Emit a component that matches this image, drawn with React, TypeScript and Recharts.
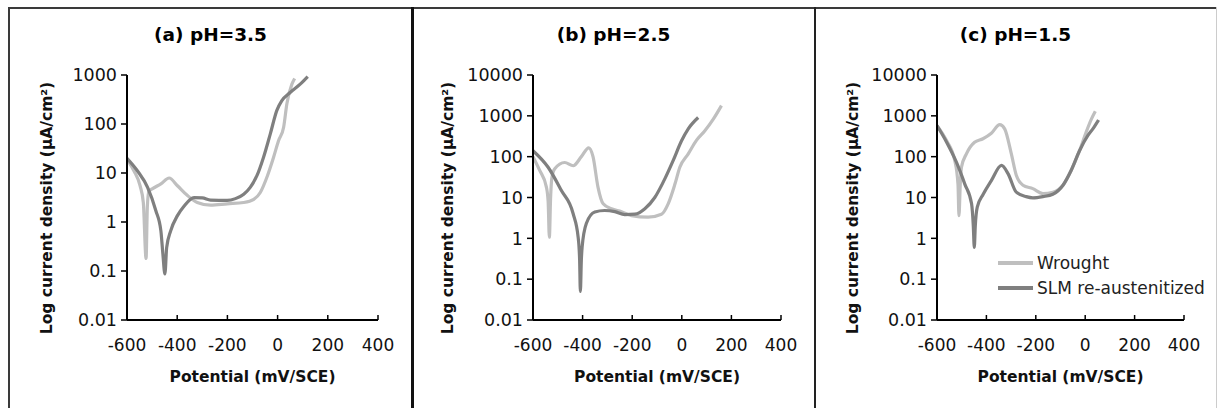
import React from 'react';
import { LineChart, Line, XAxis, YAxis, Legend, Label } from 'recharts';

const FONT = '"DejaVu Sans", Verdana, sans-serif';
const WROUGHT_COLOR = '#bfbfbf';
const SLM_COLOR = '#7f7f7f';

const seriesNames = ['Wrought', 'SLM re-austenitized'];
const panelTitles = ['(a) pH=3.5', '(b) pH=2.5', '(c) pH=1.5'];
const potentialTicks = [-600, -400, -200, 0, 200, 400];
const currentTicksA = [0.01, 0.1, 1, 10, 100, 1000];
const currentTicksBC = [0.01, 0.1, 1, 10, 100, 1000, 10000];

// (a) pH=3.5
const aWroughtE = [-600, -572, -548, -535, -524, -519, -513, -498, -465, -432, -399, -360, -320, -267, -201, -135, -95, -69, -43, -16, 4, 24, 37, 57, 68];
const aWroughtI = [19, 11, 5.5, 2.5, 0.18, 2, 4.2, 4.8, 6, 7.9, 5.5, 3.5, 2.5, 2.2, 2.35, 2.5, 2.9, 4, 8.1, 21, 46, 86, 260, 650, 850];
const aSlmE = [-600, -558, -518, -485, -465, -457, -449, -442, -426, -399, -373, -333, -300, -267, -201, -168, -135, -109, -82, -56, -29, -3, 17, 50, 90, 120];
const aSlmI = [20, 11, 5.1, 1.7, 0.66, 0.22, 0.087, 0.3, 0.66, 1.35, 2.1, 3.15, 3.1, 2.8, 2.75, 3.0, 3.7, 5.1, 8.9, 21, 63, 190, 300, 440, 650, 930];

// (b) pH=2.5
const bWroughtE = [-600, -573, -546, -539, -534, -529, -524, -513, -472, -438, -405, -375, -358, -338, -317, -284, -243, -203, -136, -82, -55, -28, -8, 26, 59, 93, 127, 160];
const bWroughtI = [100, 46, 18, 8, 1.07, 10, 30, 50, 72, 60, 100, 165, 100, 18, 7, 5.3, 4.5, 3.6, 3.3, 3.9, 7, 21, 55, 117, 250, 430, 830, 1780];
const bSlmE = [-600, -539, -486, -438, -418, -412, -409, -405, -402, -385, -351, -311, -270, -230, -189, -149, -109, -68, -35, -1, 26, 66];
const bSlmI = [140, 55, 15, 4, 1.07, 0.3, 0.05, 0.3, 0.6, 2.3, 4.4, 4.8, 4.5, 3.8, 3.9, 5.3, 10, 29, 80, 245, 480, 910];

// (c) pH=1.5
const cWroughtE = [-600, -561, -528, -515, -511, -506, -501, -481, -448, -414, -380, -346, -326, -299, -279, -252, -212, -171, -131, -90, -57, -23, 4, 25, 41];
const cWroughtI = [575, 245, 80, 21, 3.6, 20, 55, 117, 225, 275, 375, 610, 480, 117, 35, 20, 16.5, 12.5, 13.5, 20, 46, 140, 400, 830, 1290];
const cSlmE = [-600, -561, -521, -487, -460, -453, -449, -445, -437, -413, -380, -339, -312, -279, -239, -212, -171, -131, -90, -57, -23, 11, 31, 54];
const cSlmI = [580, 225, 72, 21, 7, 2, 0.6, 2, 5.8, 12, 26, 61, 38, 13.5, 10.5, 9.8, 10.5, 12, 20, 46, 140, 330, 480, 790];

const zip = (e: number[], i: number[]) => e.map((v, k) => ({ e: v, i: i[k] }));

const XTick = ({ x, y, payload }: any) => (
  <g>
    <line x1={x} y1={y} x2={x} y2={y - 5} stroke="#000" strokeWidth={1.5} />
    <text x={x} y={y + 31} textAnchor="middle" fontSize={17} fill="#111" fontFamily={FONT}>
      {payload.value}
    </text>
  </g>
);

const LegendBox = ({ payload }: any) => {
  const items = [...(payload || [])].sort(
    (p: any, q: any) => seriesNames.indexOf(p.value) - seriesNames.indexOf(q.value)
  );
  return (
    <div style={{ fontFamily: FONT, fontSize: 17, color: '#222' }}>
      {items.map((item: any) => (
        <div key={item.value} style={{ display: 'flex', alignItems: 'center', height: 25 }}>
          <div style={{ width: 35, height: 4, background: item.color, marginRight: 4 }} />
          <span style={{ whiteSpace: 'nowrap' }}>{item.value}</span>
        </div>
      ))}
    </div>
  );
};

type PanelProps = {
  left: number;
  width: number;
  yAxisWidth: number;
  rightMargin: number;
  yTicks: number[];
  yLabelX: number;
  title: string;
  wrought: { e: number; i: number }[];
  slm: { e: number; i: number }[];
  legend?: boolean;
};

function Panel({ left, width, yAxisWidth, rightMargin, yTicks, yLabelX, title, wrought, slm, legend }: PanelProps) {
  return (
    <div style={{ position: 'absolute', left, top: 0, width, height: 400 }}>
      <div
        style={{
          position: 'absolute',
          left: 0,
          top: 24,
          width,
          height: 22,
          lineHeight: '22px',
          textAlign: 'center',
          fontWeight: 'bold',
          fontSize: 18.5,
          color: '#000',
        }}
      >
        {title}
      </div>
      <LineChart width={width} height={400} margin={{ top: 75, right: rightMargin, left: 0, bottom: 0 }}>
        <XAxis
          dataKey="e"
          type="number"
          domain={[-600, 400]}
          ticks={potentialTicks}
          interval={0}
          allowDataOverflow
          height={80}
          tickSize={0}
          tickMargin={0}
          tickLine={false}
          tick={<XTick />}
          axisLine={{ stroke: '#000', strokeWidth: 2 }}
        >
          <Label
            content={({ viewBox }: any) => {
              const vb = viewBox || { x: yAxisWidth, y: 320, width: width - yAxisWidth - rightMargin };
              return (
                <text
                  x={vb.x + vb.width / 2}
                  y={377}
                  textAnchor="middle"
                  dominantBaseline="central"
                  fontSize={15.5}
                  fontWeight="bold"
                  fill="#111"
                  fontFamily={FONT}
                >
                  Potential (mV/SCE)
                </text>
              );
            }}
          />
        </XAxis>
        <YAxis
          dataKey="i"
          type="number"
          scale="log"
          domain={[yTicks[0], yTicks[yTicks.length - 1]]}
          ticks={yTicks}
          interval={0}
          allowDataOverflow
          width={yAxisWidth}
          tickSize={6}
          tickMargin={4}
          tickFormatter={(v: number) => String(v)}
          tick={{ fontSize: 17.5, fill: '#111', fontFamily: FONT }}
          tickLine={{ stroke: '#000', strokeWidth: 1.5 }}
          axisLine={{ stroke: '#000', strokeWidth: 2 }}
        >
          <Label
            content={() => (
              <text
                transform={`translate(${yLabelX},208) rotate(-90)`}
                textAnchor="middle"
                dominantBaseline="central"
                fontSize={15.5}
                fontWeight="bold"
                fill="#111"
                fontFamily={FONT}
              >
                Log current density (µA/cm²)
              </text>
            )}
          />
        </YAxis>
        <Line
          data={wrought}
          dataKey="i"
          name={seriesNames[0]}
          type="monotone"
          stroke={WROUGHT_COLOR}
          strokeWidth={3.2}
          dot={false}
          activeDot={false}
          isAnimationActive={false}
        />
        <Line
          data={slm}
          dataKey="i"
          name={seriesNames[1]}
          type="monotone"
          stroke={SLM_COLOR}
          strokeWidth={3.2}
          dot={false}
          activeDot={false}
          isAnimationActive={false}
        />
        {legend && (
          <Legend
            layout="vertical"
            align="center"
            verticalAlign="middle"
            content={<LegendBox />}
            wrapperStyle={{ left: 183, top: 250, width: 'auto' }}
          />
        )}
      </LineChart>
    </div>
  );
}

export default function App() {
  return (
    <div
      style={{
        position: 'absolute',
        left: 0,
        top: 0,
        width: 1218,
        height: 408,
        background: '#fff',
        fontFamily: FONT,
        overflow: 'hidden',
      }}
    >
      <Panel
        left={9}
        width={403}
        yAxisWidth={118}
        rightMargin={34}
        yTicks={currentTicksA}
        yLabelX={38}
        title={panelTitles[0]}
        wrought={zip(aWroughtE, aWroughtI)}
        slm={zip(aSlmE, aSlmI)}
      />
      <Panel
        left={412}
        width={403}
        yAxisWidth={121}
        rightMargin={34}
        yTicks={currentTicksBC}
        yLabelX={36}
        title={panelTitles[1]}
        wrought={zip(bWroughtE, bWroughtI)}
        slm={zip(bSlmE, bSlmI)}
      />
      <Panel
        left={815}
        width={401}
        yAxisWidth={122}
        rightMargin={32}
        yTicks={currentTicksBC}
        yLabelX={38}
        title={panelTitles[2]}
        wrought={zip(cWroughtE, cWroughtI)}
        slm={zip(cSlmE, cSlmI)}
        legend
      />
      {/* frame */}
      <div style={{ position: 'absolute', left: 8, top: 7, width: 1208, height: 2, background: '#3a3a3a' }} />
      <div style={{ position: 'absolute', left: 8, top: 7, width: 2, height: 401, background: '#3a3a3a' }} />
      <div style={{ position: 'absolute', left: 411, top: 7, width: 3, height: 401, background: '#111' }} />
      <div style={{ position: 'absolute', left: 814, top: 7, width: 2, height: 401, background: '#222' }} />
      <div style={{ position: 'absolute', left: 1216, top: 7, width: 1, height: 401, background: '#ccc' }} />
    </div>
  );
}
